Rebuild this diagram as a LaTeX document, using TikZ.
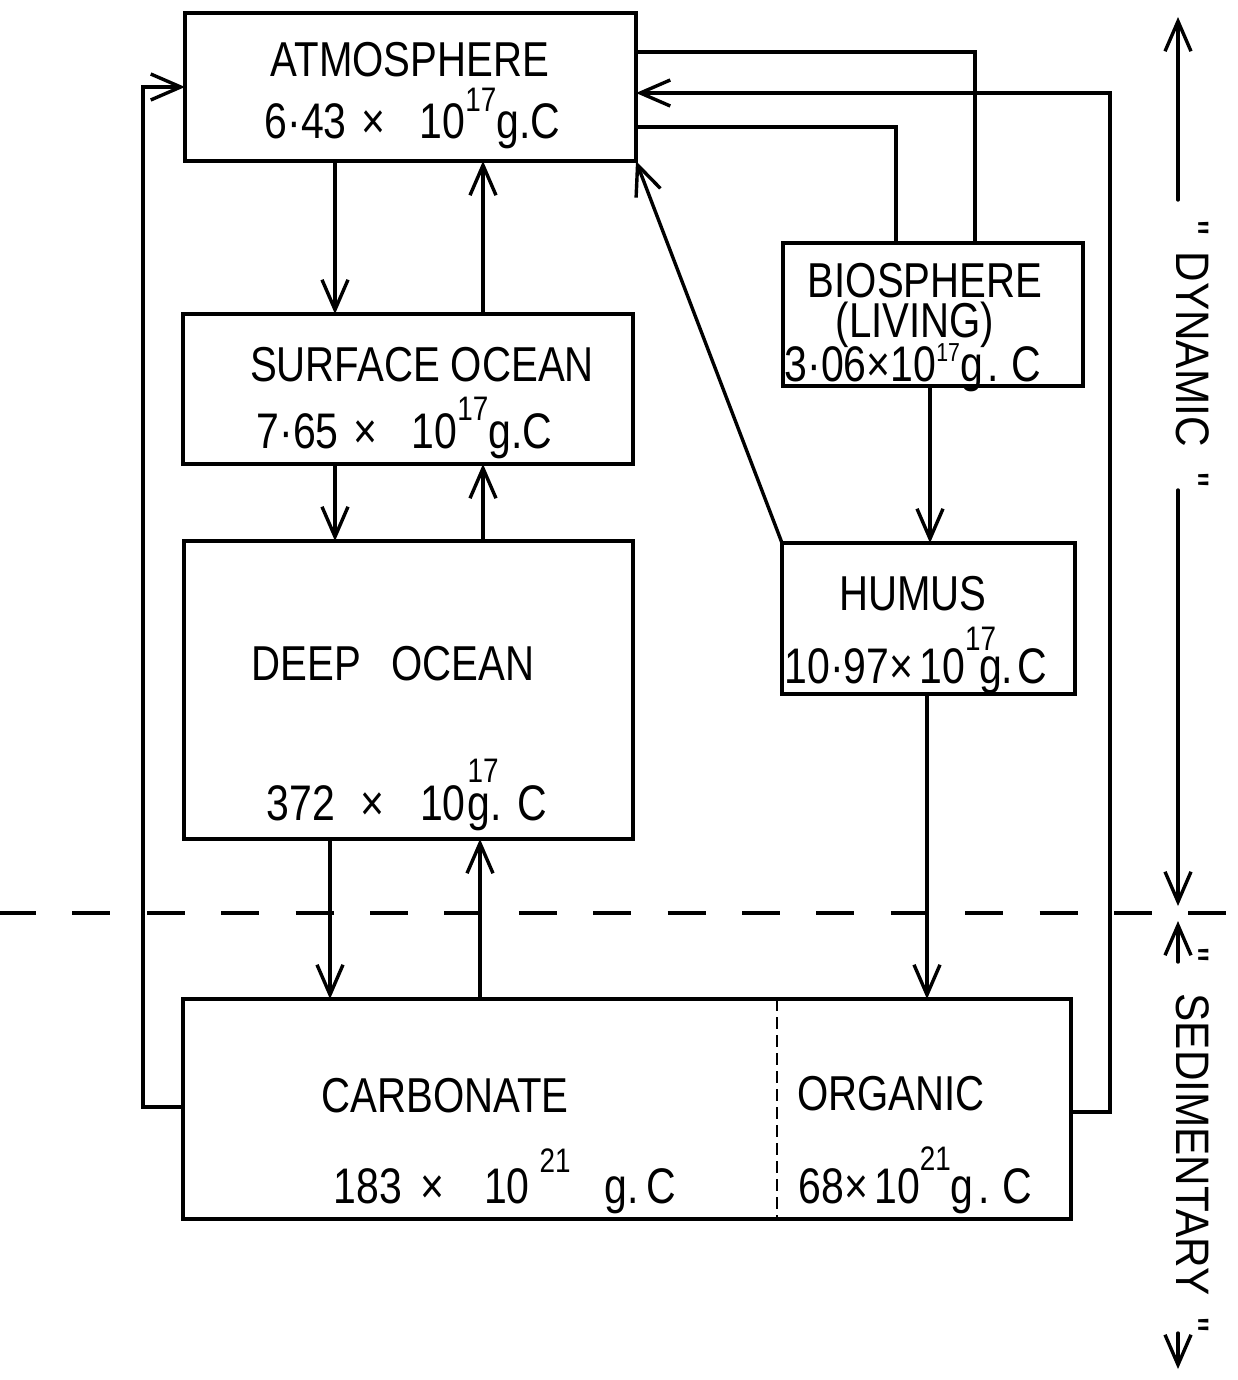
\documentclass[tikz,border=0pt]{standalone}
\usepackage{fontspec}
\setmainfont{Liberation Sans}[FakeStretch=0.82]
\newfontfamily\rotfont{Liberation Sans}[FakeStretch=0.9]
\usetikzlibrary{arrows.meta,calc}
\newcommand\bigtxt{\fontsize{49}{55}\selectfont}
\newcommand\numtxt{\fontsize{50}{56}\selectfont}
\newcommand\rottxt{\rotfont\fontsize{47}{52}\selectfont}
\newcommand\sups[3][34]{\raisebox{#2}{\fontsize{#1}{#1}\selectfont #3}}
\begin{document}
\begin{tikzpicture}[x=1pt,y=-1pt,line width=3.4pt,line cap=round,
  box/.style={draw,line width=4pt,rectangle,inner sep=0pt,outer sep=0pt},
  lab/.style={anchor=base,inner sep=0pt,font=\bigtxt},
  num/.style={anchor=base west,inner sep=0pt,font=\numtxt},
  rlab/.style={anchor=base west,inner sep=0pt,font=\rottxt,rotate=-90},
  flow/.style={-{Straight Barb[length=30pt,width=26pt]}},
  divline/.style={line width=2.4pt,dash pattern=on 12pt off 6pt,line cap=butt},
  levelline/.style={line width=4pt,dash pattern=on 38pt off 36.4pt,line cap=butt}]
\useasboundingbox (0,0) rectangle (1238,1380);

% boxes
\node[box,minimum width=451pt,minimum height=148pt] (atm) at (410.5,87) {};
\node[box,minimum width=450pt,minimum height=150pt] (surf) at (408,389) {};
\node[box,minimum width=449pt,minimum height=298pt] (deep) at (408.5,690) {};
\node[box,minimum width=888pt,minimum height=220pt] (sed) at (627,1109) {};
\node[box,minimum width=300pt,minimum height=143pt] (bio) at (933,314.5) {};
\node[box,minimum width=293pt,minimum height=151pt] (hum) at (928.5,618.5) {};

% texts
\node[lab] (tatm) at (410,77) {ATMOSPHERE};
\node[num] (natm) at (263,139) {6·43\hspace{15pt}×\hspace{34pt}10\sups{27pt}{17}g.C};
\node[lab] (tsurf) at (422,381) {SURFACE OCEAN};
\node[num] (nsurf) at (255,448) {7·65\hspace{15pt}×\hspace{34pt}10\sups{28pt}{17}g.C};
\node[lab] (tdeep) at (393,680) {DEEP\hspace{19pt} OCEAN};
\node[num] (ndeep) at (265,820) {372\hspace{25pt}×\hspace{36pt}10\hspace{2pt}\rlap{\sups{38pt}{17}}g.\hspace{16pt}C};
\node[lab] (tbio) at (925,297) {BIOSPHERE};
\node[lab] (tliv) at (915,337) {(LIVING)};
\node[num] (nbio) at (783,381) {3·06×10\sups[26]{20pt}{17}g\hspace{5pt}.\hspace{12pt}C};
\node[lab] (thum) at (913,610) {HUMUS};
\node[num] (nhum) at (783,683) {10·97×\hspace{6pt}10\rlap{\sups{33pt}{17}}\hspace{14pt}g.\hspace{4pt}C};
\node[lab] (tcarb) at (445,1112) {CARBONATE};
\node[num] (ncarb) at (332,1203) {183\hspace{18pt}×\hspace{40pt}10\hspace{10pt}\sups{31pt}{21}\hspace{34pt}g.\hspace{8pt}C};
\node[lab] (torg) at (891,1110) {ORGANIC};
\node[num] (norg) at (797,1203) {68×\hspace{6pt}10\sups{33pt}{21}g\hspace{5pt}.\hspace{12pt}C};

% ocean column exchanges
\draw[flow] (atm.south -| 335,0) -- (surf.north -| 335,0);
\draw[flow] (surf.north -| 483,0) -- (atm.south -| 483,0);
\draw[flow] (surf.south -| 335,0) -- (deep.north -| 335,0);
\draw[flow] (deep.north -| 483,0) -- (surf.south -| 483,0);
\draw[flow] (deep.south -| 330,0) -- (sed.north -| 330,0);
\draw[flow] (sed.north -| 480,0) -- (deep.south -| 480,0);

% sediment returns to atmosphere
\draw[flow] (sed.west |- 0,1107) -| (143,87) -- (atm.west);
\draw[flow] (sed.east |- 0,1112) -| (1110,93) -- (atm.east |- 0,93);

% biosphere exchanges
\draw (atm.east |- 0,52) -| (bio.north -| 975,0);
\draw (bio.north -| 896,0) |- (atm.east |- 0,127);
\draw[flow] (hum.north west) -- (atm.south east);
\draw[flow] (bio.south -| 930,0) -- (hum.north -| 930,0);
\draw[flow] (hum.south -| 927,0) -- (sed.north -| 927,0);

% divider in sediment box
\draw[divline] (sed.north -| 777,0) -- (sed.south -| 777,0);

% level line
\coordinate (lvlA) at (-2,913);
\coordinate (lvlB) at (1232,913);
\draw[levelline] (lvlA) -- (lvlB);

% right-hand labels
\node[rlab] (dyn) at (1176,219) {"\hspace{16pt}DYNAMIC\hspace{26pt}"};
\coordinate (dynA) at (1178,200);
\coordinate (dynTop) at (1178,17);
\coordinate (dynB) at (1178,490);
\coordinate (dynBot) at (1178,906);
\draw[flow] (dynA) -- (dynTop);
\draw[flow] (dynB) -- (dynBot);
\node[rlab] (sq1) at (1176,946) {"};
\node[rlab] (sedl) at (1176,992) {SEDIMENTARY};
\node[rlab] (sq2) at (1176,1316) {"};
\coordinate (sedA) at (1178,962);
\coordinate (sedTop) at (1178,921);
\coordinate (sedB) at (1178,1333);
\coordinate (sedBot) at (1178,1369);
\draw[flow] (sedA) -- (sedTop);
\draw[flow] (sedB) -- (sedBot);
\end{tikzpicture}
\end{document}
